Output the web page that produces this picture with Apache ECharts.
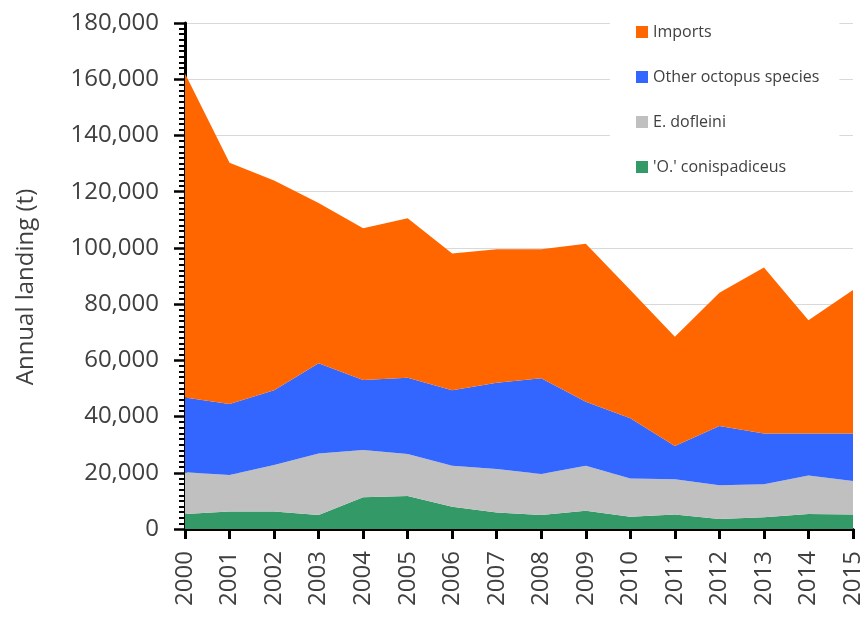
<!DOCTYPE html>
<html>
<head>
<meta charset="utf-8">
<script src="https://cdn.jsdelivr.net/npm/echarts@6/dist/echarts.min.js"></script>
<style>html,body{margin:0;padding:0;background:#fff;}#c{width:865px;height:618px;}</style>
</head>
<body>
<div id="c"></div>
<script>
const years = ['2000','2001','2002','2003','2004','2005','2006','2007','2008','2009','2010','2011','2012','2013','2014','2015'];
const conispadiceus = [5300,6200,6200,5000,11300,11700,7900,5900,5000,6500,4400,5200,3600,4200,5300,5200];
const dofleini = [14900,13000,16600,21900,16800,15000,14600,15400,14600,16000,13600,12500,12000,11700,13700,11900];
const otherOctopus = [26600,25300,26600,32100,24900,27100,26900,30700,34000,22800,21400,11800,21000,18100,15000,16900];
const imports = [115200,85800,74600,57000,54000,56700,48600,47500,45900,56200,45600,38900,47400,59000,40300,51000];
const seriesNames = ['Imports','Other octopus species','E. dofleini',"'O.' conispadiceus"];

const FONT = 'Open Sans';
const chart = echarts.init(document.getElementById('c'), null, {renderer:'canvas'});
function area(name, data, color){
  return {name, type:'line', stack:'total', data, symbol:'none', showSymbol:false,
    lineStyle:{width:0}, areaStyle:{color, opacity:1}, itemStyle:{color}, emphasis:{disabled:true}};
}
chart.setOption({
  animation:false,
  grid:{left:185, right:12, top:23, bottom:89, containLabel:false},
  legend:{
    data:seriesNames, orient:'vertical', left:610, top:12,
    padding:[12,20,12,26], itemGap:29, itemWidth:12, itemHeight:12,
    backgroundColor:'#fff',
    textStyle:{fontFamily:FONT, fontSize:16, lineHeight:14, color:'#404040'},
    icon:'rect'
  },
  xAxis:{
    type:'category', data:years, boundaryGap:false,
    axisLine:{lineStyle:{color:'#000', width:3}},
    axisTick:{show:true, inside:false, length:10, lineStyle:{color:'#000', width:3}, alignWithLabel:true},
    axisLabel:{rotate:90, margin:22, fontFamily:FONT, fontSize:24, color:'#404040', interval:0},
    splitLine:{show:false}
  },
  yAxis:{
    type:'value', min:0, max:180000, interval:20000,
    axisLine:{show:true, lineStyle:{color:'#000', width:3}},
    axisTick:{show:true, length:11, lineStyle:{color:'#000', width:2.5}},
    minorTick:{show:true, splitNumber:10, length:6, lineStyle:{color:'#000', width:2}},
    axisLabel:{margin:26, fontFamily:FONT, fontSize:24, color:'#404040',
      formatter:v=>v.toLocaleString('en-US')},
    splitLine:{show:true, lineStyle:{color:'#d9d9d9', width:1}}
  },
  graphic:[{type:'text', x:26, y:287, rotation:Math.PI/2,
    style:{text:'Annual landing (t)', fontFamily:FONT, fontSize:24, fill:'#404040', align:'center', verticalAlign:'middle'}}],
  series:[
    area("'O.' conispadiceus", conispadiceus, '#339966'),
    area('E. dofleini', dofleini, '#c0c0c0'),
    area('Other octopus species', otherOctopus, '#3366ff'),
    area('Imports', imports, '#ff6600')
  ]
});
</script>
</body>
</html>
